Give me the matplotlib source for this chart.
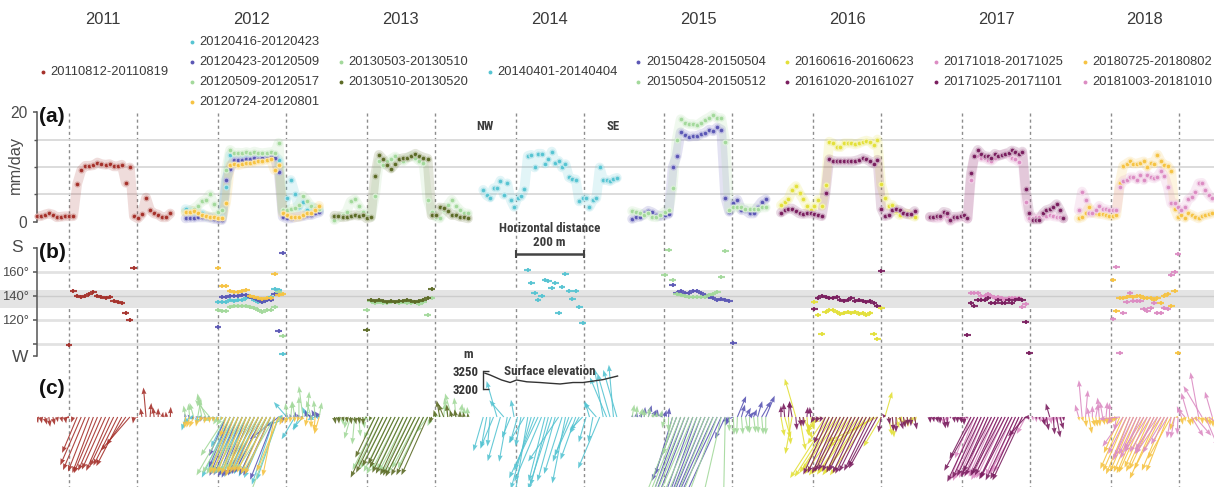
import numpy as np
import matplotlib
matplotlib.use("Agg")
import matplotlib.pyplot as plt
from matplotlib import font_manager
from matplotlib.colors import to_rgb

# ---------------------------------------------------------------- data
YEARS = ["2011", "2012", "2013", "2014", "2015", "2016", "2017", "2018"]

# surface velocity (mm/day) sampled evenly along each 400 m profile, NW -> SE
SPD_20110812 = [1.0, 1.0, 1.3, 1.5, 1.3, 0.8, 0.9, 1.0, 1.0, 1.0,
                6.9, 9.4, 10.2, 10.2, 10.3, 10.8, 10.5, 10.4, 10.5, 10.1, 10.1, 10.4, 7.1, 9.9,
                1.0, 0.6, 1.4, 4.4, 2.1, 1.5, 1.3, 0.8, 0.8, 1.5]
SPD_20120416 = [2.3, 2.1, 1.8, 1.2, 1.5, 1.0, 0.9, 0.8, 0.9, 0.8,
                6.3, 12.2, 11.0, 11.1, 11.4, 11.6, 11.7, 11.6, 11.9, 11.9, 12.0, 11.9, 12.0, 11.3,
                1.8, 4.4, 7.6, 5.1, 2.6, 3.6, 2.1, 2.7, 2.4, 2.0]
SPD_20120423 = [0.6, 0.7, 0.7, 0.8, 0.8, 0.8, 0.7, 0.5, 0.4, 0.3,
                7.6, 9.7, 11.3, 11.2, 11.3, 11.5, 11.5, 11.6, 11.5, 11.6, 11.7, 11.8, 11.7, 9.1,
                0.9, 0.6, 0.6, 0.8, 0.9, 1.0, 1.2, 1.2, 1.5, 1.7]
SPD_20120509 = [1.8, 2.0, 2.4, 2.9, 3.7, 4.0, 5.0, 3.2, 1.8, 2.1,
                9.4, 13.1, 12.5, 12.6, 12.5, 12.7, 12.5, 12.8, 12.6, 12.5, 12.6, 12.7, 12.5, 14.4,
                2.2, 2.1, 2.3, 2.5, 3.0, 4.7, 3.8, 2.8, 2.5, 2.3]
SPD_20120724 = [1.7, 1.8, 2.0, 1.5, 1.2, 1.1, 0.9, 0.8, 0.6, 0.6,
                3.5, 10.3, 10.5, 10.3, 10.5, 10.7, 10.8, 10.9, 11.0, 11.1, 11.3, 11.4, 9.4, 10.3,
                1.5, 1.2, 0.9, 0.8, 0.9, 1.2, 1.5, 1.6, 2.1, 2.9]
SPD_20130503 = [0.3, 0.8, 1.2, 1.8, 3.7, 4.1, 2.9, 1.8, 1.1, 0.9,
                4.6, 11.0, 10.4, 11.0, 11.4, 11.9, 11.3, 11.0, 11.6, 12.0, 11.7, 11.1, 10.7,
                4.0, 1.8, 0.9, 0.6, 2.1, 3.0, 4.0, 2.9, 2.1, 1.5, 1.5]
SPD_20130510 = [1.1, 1.0, 0.8, 0.9, 1.1, 1.2, 1.1, 1.2, 0.6, 0.8,
                8.3, 12.2, 11.4, 10.3, 9.7, 10.6, 11.4, 11.6, 11.7, 12.0, 12.4, 12.0, 11.7, 11.5,
                1.2, 1.2, 2.6, 2.5, 1.9, 1.2, 1.2, 0.9, 0.8, 0.6]
SPD_20140401 = [5.8, 4.8, 4.4, 6.1, 6.1, 7.5, 4.9, 7.0, 4.0, 2.7, 4.4, 4.6, 6.0,
                12.0, 12.2, 9.9, 12.4, 12.4, 10.6, 11.4, 12.8, 10.8, 11.1, 9.9, 10.5, 8.1, 7.8, 7.7,
                3.7, 4.3, 4.3, 2.7, 3.9, 4.3, 9.9, 7.6, 7.6, 7.4, 7.8, 8.0]
SPD_20150428 = [0.5, 0.8, 0.9, 1.5, 2.0, 1.7, 1.2, 1.0, 1.2, 1.4,
                9.9, 11.9, 16.3, 15.9, 15.5, 15.6, 15.6, 16.0, 16.2, 16.8, 16.5, 17.2, 16.8,
                4.4, 1.8, 3.35, 4.0, 2.1, 2.1, 1.5, 1.5, 2.7, 3.65, 4.1]
SPD_20150504 = [1.95, 1.7, 1.5, 1.2, 1.5, 0.9, 0.8, 1.2, 1.8, 2.1,
                6.2, 15.0, 18.7, 18.1, 17.8, 17.8, 17.6, 18.1, 18.6, 19.0, 19.5, 18.9, 18.9, 14.6,
                2.1, 2.6, 2.6, 2.6, 2.4, 2.4, 2.4, 2.4, 2.6, 2.6]
SPD_20160616 = [3.0, 3.6, 4.1, 5.8, 6.5, 5.2, 4.1, 2.8, 2.2, 2.9, 4.0, 2.9,
                6.7, 14.6, 14.3, 13.7, 13.6, 14.3, 14.3, 14.3, 14.1, 14.3, 14.6, 14.8, 14.6, 14.0, 15.0,
                6.8, 4.3, 2.9, 3.05, 1.9, 1.2, 1.5, 1.5, 1.2, 0.9]
SPD_20161020 = [1.65, 2.1, 2.4, 2.4, 1.95, 1.5, 1.4, 1.5, 1.5, 1.4, 1.2, 1.0,
                5.2, 11.4, 11.1, 11.0, 11.0, 11.0, 11.0, 11.0, 11.1, 11.3, 11.6, 11.4, 11.0, 10.6, 11.3,
                2.4, 1.0, 1.2, 2.1, 2.25, 2.1, 1.65, 1.35, 1.35, 1.95]
SPD_20171018 = [0.8, 0.7, 0.6, 0.7, 1.2, 1.0, 0.1, 0.5, 0.7, 0.8, 0.9, 0.5,
                7.7, 11.9, 11.9, 11.7, 11.7, 11.3, 11.1, 11.7, 12.2, 12.2, 12.4, 12.2, 11.6, 11.4, 10.9, 12.5,
                3.65, 0.6, 0.6, 0.8, 0.9, 1.2, 1.0, 1.2, 1.0, 0.9, 0.8, 0.6]
SPD_20171025 = [0.9, 0.8, 1.0, 1.0, 1.8, 1.65, 0.3, 0.9, 0.9, 1.0, 1.2, 0.6,
                8.8, 11.9, 13.1, 12.4, 11.9, 11.9, 11.7, 12.4, 12.0, 12.2, 12.4, 12.6, 13.0, 12.8, 12.4, 12.8,
                5.9, 1.65, 0.4, 0.4, 0.4, 1.5, 2.1, 2.3, 2.6, 3.2, 2.1, 0.6]
SPD_20180725 = [0.6, 0.8, 1.5, 2.6, 1.65, 1.5, 1.4, 1.35, 1.2, 1.05, 1.05, 1.2,
                7.1, 10.2, 10.6, 11.0, 10.6, 10.6, 10.8, 11.0, 10.0, 10.8, 10.6, 12.2, 11.0, 10.3, 10.2, 9.3,
                2.4, 0.9, 1.2, 0.7, 1.5, 1.2, 0.9, 0.6, 1.05, 1.2, 1.35, 1.5]
SPD_20181003 = [2.1, 5.5, 4.0, 1.5, 1.65, 2.1, 2.9, 2.4, 2.25, 2.1, 2.1, 2.1,
                6.3, 7.5, 7.7, 8.1, 8.1, 7.7, 8.5, 7.6, 8.5, 8.1, 7.9, 8.2, 9.2, 8.3, 6.4,
                3.35, 3.35, 2.6, 2.1, 2.7, 4.1, 4.45, 5.5, 7.0, 7.1, 5.8, 4.9, 4.3]

# flow azimuth (deg; 90 = W, 180 = S) at the same samples
AZ_20110812 = [205, 200, 210, 195, 205, 200, 210, 200,
               99, 144, 140, 139, 140, 142, 143, 140, 139, 138, 139, 136, 135, 134, 126, 120, 163,
               100, 20, 10, 350, 15, 0, 340, 10, 355]
AZ_20120416 = [150, 120, 100, 160, 90, 130, 110, 140,
               135, 135, 135, 137, 136, 137, 137, 138, 139, 137, 135, 135, 137, 139, 146, 145, 92,
               60, 100, 130, 140, 120, 45, 70, 100, 80]
AZ_20120423 = [30, 60, 120, 90, 150, 100, 80, 140,
               114, 139, 139, 140, 140, 140, 141, 141, 139, 138, 137, 135, 137, 137, 142, 111, 176,
               20, 40, 350, 60, 90, 30, 70, 45, 60]
AZ_20120509 = [20, 10, 30, 340, 20, 40, 60, 100,
               128, 127.5, 127.5, 131, 131.5, 132, 132, 131.5, 131, 129.7, 128.3, 127, 128.3, 128.3,
               131, 143.6, 106.7,
               10, 350, 20, 0, 15, 350, 30, 10, 340]
AZ_20120724 = [170, 150, 140, 160, 130, 150, 170, 160,
               163, 148, 148.6, 144, 143, 143.5, 144, 145, 140, 139, 138, 137.5, 138, 138, 158, 141, 142,
               150, 160, 170, 140, 120, 160, 180, 170, 150]
AZ_20130503 = [200, 220, 190, 160, 150, 170, 190, 200,
               128, 136, 134, 135, 134, 134, 135, 135, 134, 135, 134, 134, 135, 133, 135, 124, 138,
               10, 0, 350, 20, 30, 10, 340, 0, 10]
AZ_20130510 = [200, 190, 210, 200, 195, 205, 200, 190,
               112, 137, 136, 137, 136, 135, 136, 135, 136, 136, 137, 136, 135, 136, 137, 138, 146,
               30, 20, 40, 10, 30, 20, 0, 20, 10]
AZ_20140401 = [150, 160, 170, 140, 30, 150, 60, 160, 140, 20, 150, 160, 130,
               161.6, 150.5, 142.7, 136.6, 140, 153.3, 152.5, 147, 151.1, 126.1, 147.7, 158.3,
               144.4, 137.5, 144.4, 131.1, 117.2,
               150, 30, 160, 60, 140, 20, 40, 30, 10, 30]
AZ_20150428 = [330, 340, 320, 350, 330, 310, 340, 320, 330, 350,
               149.1, 142.2, 144.1, 142.7, 142.2, 144.4, 144.4, 142.5, 140.8, 139.5, 138, 136.6,
               137.5, 136.6, 136.1, 101.1,
               320, 330, 310, 300, 320, 330, 310, 320]
AZ_20150504 = [340, 350, 330, 0, 340, 320, 350, 330,
               157.5, 178.3, 153.3, 141.6, 141, 140, 139.5, 139, 139, 139, 139.5, 140.8, 141.6,
               143.6, 155.5, 177.7,
               180, 185, 175, 190, 200, 180, 195, 185, 190, 180]
AZ_20160616 = [200, 210, 190, 160, 30, 200, 220, 190, 210,
               135, 124, 108, 127, 128, 128, 127, 125, 126, 127, 126, 127, 125, 126, 124, 126, 108, 104, 130,
               330, 200, 190, 210, 220, 200, 190, 210, 200]
AZ_20161020 = [0, 10, 350, 20, 190, 200, 180, 350, 10,
               129, 138, 140, 139, 138, 138, 139, 137, 136, 137, 138, 136, 137, 136, 135, 136, 134, 132, 161,
               60, 200, 190, 180, 210, 200, 190, 180, 200]
AZ_20171018 = [200, 190, 210, 200, 180, 190, 210, 200, 190, 200, 210, 190,
               142.2, 142.2, 142.2, 140.3, 140, 141.4, 140, 138.6, 139.4, 138, 136.7, 138, 138, 138, 138,
               130.6, 133.3,
               150, 200, 190, 210, 200, 190, 210, 200, 190, 200, 210]
AZ_20171025 = [190, 200, 210, 180, 200, 190, 210, 200, 190, 200, 180,
               107.5, 134.4, 131.7, 136.7, 136.7, 137, 138, 133.9, 134.4, 136.7, 133.9, 133.9, 136.7,
               133.9, 136.7, 137.5, 136.7, 118.6, 92.8,
               60, 200, 190, 210, 200, 30, 190, 200, 210, 190]
AZ_20180725 = [200, 210, 190, 200, 210, 200, 190, 210, 200, 190,
               153.3, 127.5, 138.6, 138.6, 139, 140, 139.4, 140, 140, 138.1, 138.1, 138.1, 136.7, 138.1,
               134.4, 140, 141.7, 131.7, 144.4, 92.8,
               200, 190, 210, 200, 220, 200, 190, 210, 200, 190]
AZ_20181003 = [30, 10, 350, 20, 0, 340, 10, 20, 350, 0,
               120.6, 164.4, 92.8, 125.6, 135, 142.2, 136.1, 136.1, 136.1, 128.9, 127.8, 130, 133.9,
               126.1, 126.1, 129.7, 129.2, 157.5, 160, 174.7,
               40, 60, 30, 230, 240, 20, 50, 220, 250, 30]

# first / last sample index with a direction estimate in panel (b)
B_20110812 = (8, 24)
B_20120416 = (8, 24)
B_20120423 = (8, 24)
B_20120509 = (8, 24)
B_20120724 = (8, 24)
B_20130503 = (8, 24)
B_20130510 = (8, 24)
B_20140401 = (13, 29)
B_20150428 = (10, 25)
B_20150504 = (8, 23)
B_20160616 = (9, 27)
B_20161020 = (9, 27)
B_20171018 = (12, 28)
B_20171025 = (11, 29)
B_20180725 = (10, 29)
B_20181003 = (10, 29)

# surface elevation along the 2014 profile
ELEV_X = [-190, -175, -141, -116, -97, -67, -28, 0, 31, 69, 98, 128, 157, 200]
ELEV_Z = [3244, 3239, 3225, 3218, 3225, 3220, 3218, 3216, 3214, 3218, 3218, 3222, 3226, 3236]

# ---------------------------------------------------------------- styling
C_RED = "#a5312b"
C_CYAN = "#56c4d2"
C_BLUE = "#5b57b5"
C_LGREEN = "#a3d99b"
C_GOLD = "#f6c343"
C_OLIVE = "#5c6b26"
C_LEMON = "#e3e03a"
C_PLUM = "#7a1e5f"
C_PINK = "#dc8cc3"

SERIES = [
    ("20110812-20110819", 0, C_RED, SPD_20110812, AZ_20110812, B_20110812),
    ("20120416-20120423", 1, C_CYAN, SPD_20120416, AZ_20120416, B_20120416),
    ("20120423-20120509", 1, C_BLUE, SPD_20120423, AZ_20120423, B_20120423),
    ("20120509-20120517", 1, C_LGREEN, SPD_20120509, AZ_20120509, B_20120509),
    ("20120724-20120801", 1, C_GOLD, SPD_20120724, AZ_20120724, B_20120724),
    ("20130503-20130510", 2, C_LGREEN, SPD_20130503, AZ_20130503, B_20130503),
    ("20130510-20130520", 2, C_OLIVE, SPD_20130510, AZ_20130510, B_20130510),
    ("20140401-20140404", 3, C_CYAN, SPD_20140401, AZ_20140401, B_20140401),
    ("20150428-20150504", 4, C_BLUE, SPD_20150428, AZ_20150428, B_20150428),
    ("20150504-20150512", 4, C_LGREEN, SPD_20150504, AZ_20150504, B_20150504),
    ("20160616-20160623", 5, C_LEMON, SPD_20160616, AZ_20160616, B_20160616),
    ("20161020-20161027", 5, C_PLUM, SPD_20161020, AZ_20161020, B_20161020),
    ("20171018-20171025", 6, C_PINK, SPD_20171018, AZ_20171018, B_20171018),
    ("20171025-20171101", 6, C_PLUM, SPD_20171025, AZ_20171025, B_20171025),
    ("20180725-20180802", 7, C_GOLD, SPD_20180725, AZ_20180725, B_20180725),
    ("20181003-20181010", 7, C_PINK, SPD_20181003, AZ_20181003, B_20181003),
]


def pick_font(candidates):
    names = {f.name for f in font_manager.fontManager.ttflist}
    for c in candidates:
        if c in names:
            return c
    return "DejaVu Sans"


SANS = pick_font(["Liberation Sans", "Arimo", "Roboto"])
NARROW = pick_font(["Liberation Sans Narrow", "Roboto Condensed", "Open Sans Condensed", "Roboto"])
plt.rcParams["font.family"] = [SANS, "DejaVu Sans"]

W, H = 1214, 487
PX_PER_M = 0.34          # horizontal scale: 200 m = 68 px
BLOCK_M = 437.8          # spacing between yearly profiles along the common axis
X0_PX = 103.0            # pixel of the 2011 profile centre
LEFT_PX = 37.0
PROFILE = (-195.0, 198.0)

XLIM = ((LEFT_PX - X0_PX) / PX_PER_M, (W - X0_PX) / PX_PER_M)

fig = plt.figure(figsize=(W / 100, H / 100), dpi=100)


def rect(top_px, bottom_px, left_px=LEFT_PX, right_px=W):
    return [left_px / W, 1 - bottom_px / H, (right_px - left_px) / W, (bottom_px - top_px) / H]


def lighten(c, f=0.55):
    r, g, b = to_rgb(c)
    return (r + (1 - r) * f, g + (1 - g) * f, b + (1 - b) * f)


def positions(yidx, n):
    return yidx * BLOCK_M + np.linspace(PROFILE[0], PROFILE[1], n)


TXT = "#3a3a3a"

# background layer: year titles, legends, dashed profile markers
ax_bg = fig.add_axes([LEFT_PX / W, 0, (W - LEFT_PX) / W, 1])
ax_bg.set_xlim(XLIM)
ax_bg.set_ylim(H, 0)
ax_bg.axis("off")
ax_bg.set_zorder(0)

for b, yr in enumerate(YEARS):
    cx = b * BLOCK_M
    ax_bg.text(cx, 19, yr, ha="center", va="center", fontsize=11.9, color=TXT)
    for dx in (-100, 100):
        ax_bg.plot([cx + dx, cx + dx], [113, H], color="#8c8c8c", lw=1.0,
                   linestyle=(0, (2.2, 2.2)), zorder=0)
    entries = [(s[0], s[2]) for s in SERIES if s[1] == b]
    n = len(entries)
    for k, (lab, col) in enumerate(entries):
        yy = 72 + (k - (n - 1) / 2) * 19.7
        dot_x = cx - 60 / PX_PER_M
        ax_bg.plot([dot_x], [yy], "o", ms=2.8, color=col, mec="none")
        ax_bg.text(dot_x + 7.5 / PX_PER_M, yy, lab, ha="left", va="center",
                   fontsize=9.3, color=TXT)

# horizontal scale bar and profile orientation labels (2014 profile)
c14 = 3 * BLOCK_M
ax_bg.plot([c14 - 100, c14 + 100], [253.5, 253.5], color="#444444", lw=1.8,
           solid_capstyle="butt")
ax_bg.plot([c14 - 100, c14 + 100], [253.5, 253.5], "|", color="#444444", ms=6, mew=1.5)
ax_bg.text(c14, 228, "Horizontal distance", ha="center", va="center", fontsize=9.4,
           fontweight="bold", family=NARROW, color="#3c3c3c", fontstretch="condensed")
ax_bg.text(c14, 243, "200 m", ha="center", va="center", fontsize=9.4,
           fontweight="bold", family=NARROW, color="#3c3c3c", fontstretch="condensed")
ax_bg.text(c14 - 190, 127, "NW", ha="center", va="center", fontsize=9.2,
           fontweight="bold", family=NARROW, color="#3c3c3c", fontstretch="condensed")
ax_bg.text(c14 + 187, 127, "SE", ha="center", va="center", fontsize=9.2,
           fontweight="bold", family=NARROW, color="#3c3c3c", fontstretch="condensed")

# ---------------------------------------------------------------- (a) speed
ax_a = fig.add_axes(rect(108, 226))
ax_a.set_xlim(XLIM)
ax_a.set_ylim((221.7 - 226) / 5.48, (221.7 - 108) / 5.48)
ax_a.patch.set_alpha(0)
for s in ("top", "right", "bottom"):
    ax_a.spines[s].set_visible(False)
ax_a.spines["left"].set_bounds(0, 20)
ax_a.spines["left"].set_color("#555555")
ax_a.spines["left"].set_linewidth(1.1)
ax_a.set_xticks([])
ax_a.set_yticks([0, 20])
ax_a.set_yticklabels(["0", "20"])
ax_a.set_yticks([5, 10, 15], minor=True)
ax_a.tick_params(axis="y", which="major", length=3, width=1.1, color="#555555",
                 labelsize=11.2, labelcolor="#4a4a4a", pad=4)
ax_a.tick_params(axis="y", which="minor", length=2.5, width=1.0, color="#555555")
for g in (5, 10, 15):
    ax_a.axhline(g, color="#d9d9d9", lw=1.3, zorder=0)

for lab, b, col, spd, az, span in SERIES:
    x = positions(b, len(spd))
    ax_a.plot(x, spd, color=col, lw=7, alpha=0.17, solid_joinstyle="round",
              solid_capstyle="round", zorder=2)
for lab, b, col, spd, az, span in SERIES:
    x = positions(b, len(spd))
    ax_a.plot(x, spd, "o", ms=3.5, color=col, mec=lighten(col, 0.6), mew=0.9,
              zorder=3, clip_on=False)

fig.text(15 / W, 1 - 165 / H, "mm/day", rotation=90, ha="center", va="center",
         fontsize=11.8, color="#4a4a4a")
fig.text(39 / W, 1 - 117 / H, "(a)", ha="left", va="center", fontsize=15,
         fontweight="bold", color="#111111")

# ---------------------------------------------------------------- (b) azimuth
ax_b = fig.add_axes(rect(242, 362))
ax_b.set_xlim(XLIM)
ax_b.set_ylim(140 - (362 - 296) / 1.2, 140 + (296 - 242) / 1.2)
ax_b.patch.set_alpha(0)
for s in ("top", "right", "bottom"):
    ax_b.spines[s].set_visible(False)
ax_b.spines["left"].set_bounds(90, 180)
ax_b.spines["left"].set_color("#555555")
ax_b.spines["left"].set_linewidth(1.1)
ax_b.set_xticks([])
ax_b.set_yticks([90, 100, 120, 140, 160, 180])
ax_b.set_yticklabels(["", "", "120°", "140°", "160°", ""])
ax_b.tick_params(axis="y", length=3, width=1.1, color="#555555", labelsize=9.4,
                 labelcolor="#4a4a4a", pad=3)
ax_b.axhspan(130, 145, xmin=-LEFT_PX / (W - LEFT_PX), xmax=1, color="#e4e4e4",
             lw=0, zorder=0, clip_on=False)
ax_b.axhline(140, color="#cccccc", lw=1.0, zorder=0.5)
for g in (100, 120, 160):
    ax_b.axhline(g, color="#e2e2e2", lw=2.0, zorder=0)

for lab, b, col, spd, az, span in SERIES:
    x = positions(b, len(spd))
    i0, i1 = span
    ax_b.errorbar(x[i0:i1 + 1], np.asarray(az, float)[i0:i1 + 1], xerr=10, yerr=1.7,
                  fmt="none", ecolor=col, elinewidth=1.5, alpha=0.9, zorder=3)

fig.text(17.5 / W, 1 - 248 / H, "S", ha="center", va="center", fontsize=12.5, color="#4a4a4a")
fig.text(20 / W, 1 - 357 / H, "W", ha="center", va="center", fontsize=12.5, color="#4a4a4a")
fig.text(39 / W, 1 - 252 / H, "(b)", ha="left", va="center", fontsize=15,
         fontweight="bold", color="#111111")

# ---------------------------------------------------------------- (c) vectors
ARROW_KX = 3.4   # px per mm/day, across
ARROW_KY = 6.8   # px per mm/day, down
ax_c = fig.add_axes(rect(360, 487))
ax_c.set_xlim(XLIM)
ax_c.set_ylim(-70, 57)
ax_c.axis("off")
for lab, b, col, spd, az, span in SERIES:
    x = positions(b, len(spd))
    sp = np.asarray(spd, float)
    ang = np.radians(180.0 - np.asarray(az, float))
    u = -sp * np.sin(ang) * ARROW_KX / PX_PER_M
    v = -sp * np.cos(ang) * ARROW_KY
    ax_c.quiver(x, np.zeros_like(x), u, v, color=col, angles="xy", scale_units="xy",
                scale=1, units="dots", width=1.1, headwidth=4.5, headlength=6,
                headaxislength=5.5, alpha=0.9, zorder=3)

fig.text(39 / W, 1 - 389 / H, "(c)", ha="left", va="center", fontsize=15,
         fontweight="bold", color="#111111")

# surface elevation inset above the 2014 vectors
e_left, e_right = 483.0, 620.0
c14_px = X0_PX + 3 * BLOCK_M * PX_PER_M
ax_e = fig.add_axes(rect(371, 389, e_left, e_right))
ax_e.set_xlim((e_left - c14_px) / PX_PER_M, (e_right - c14_px) / PX_PER_M)
ax_e.set_ylim(3200, 3250)
ax_e.patch.set_alpha(0)
for s in ("top", "right", "bottom"):
    ax_e.spines[s].set_visible(False)
ax_e.spines["left"].set_color("#333333")
ax_e.spines["left"].set_linewidth(1.0)
ax_e.set_xticks([])
ax_e.set_yticks([3200, 3250])
ax_e.set_yticklabels(["3200", "3250"])
ax_e.tick_params(axis="y", direction="in", length=4, width=1.0, color="#333333",
                 labelsize=9.2, labelcolor="#333333", pad=3)
for t in ax_e.get_yticklabels():
    t.set_fontweight("bold")
    t.set_family(NARROW)
    t.set_fontstretch("condensed")
ax_e.plot(ELEV_X, ELEV_Z, color="#333333", lw=1.0, clip_on=False)
ax_e.text(0.49, 0.95, "Surface elevation", transform=ax_e.transAxes, ha="center",
          va="center", fontsize=9.4, fontweight="bold", family=NARROW, color="#3c3c3c",
          fontstretch="condensed")
fig.text(468 / W, 1 - 354 / H, "m", ha="center", va="center", fontsize=9.4,
         fontweight="bold", family=NARROW, color="#3c3c3c", fontstretch="condensed")

fig.savefig("out.png", dpi=100)
